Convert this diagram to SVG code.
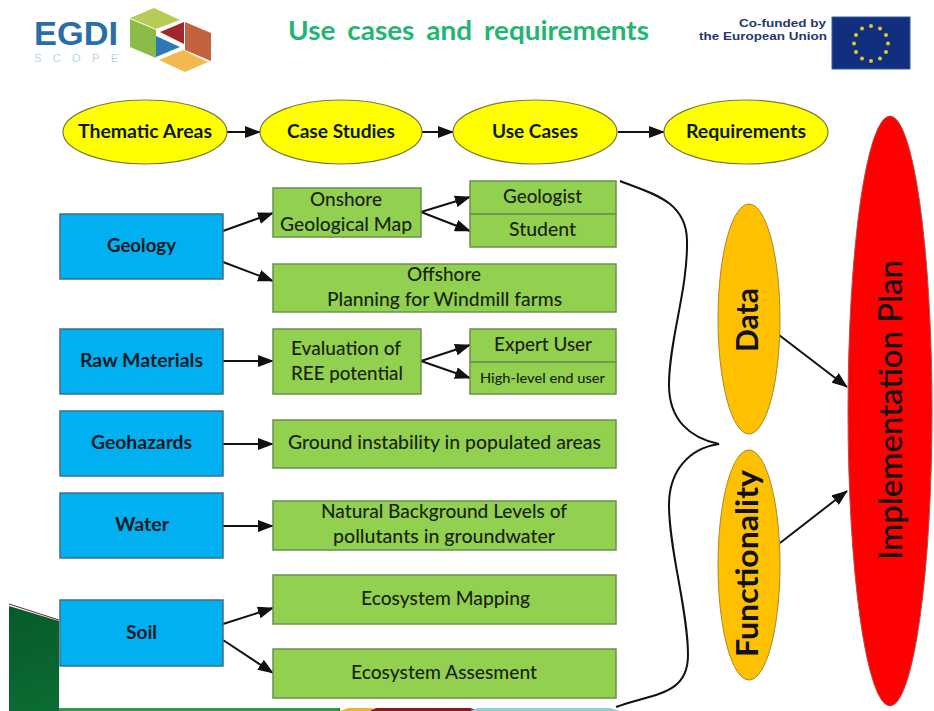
<svg xmlns="http://www.w3.org/2000/svg" width="934" height="711" viewBox="0 0 934 711">
<style>
text{font-family:Lato,"Liberation Sans",sans-serif;fill:#1a2410;text-anchor:middle;font-size:19px;font-weight:500}
.b{font-weight:700;fill:#0b1a24}
.y{fill:#ffff00;stroke:#7a7a40;stroke-width:1.2}
.bl{fill:#00b0f0;stroke:#3f6f85;stroke-width:1.5}
.g{fill:#92d050;stroke:#6d8f50;stroke-width:1.5}
.o{fill:#ffc000;stroke:#a88a30;stroke-width:1}
.c{fill:none;stroke:#111;stroke-width:2;marker-end:url(#a)}
</style>
<defs>
<marker id="a" markerUnits="userSpaceOnUse" markerWidth="16" markerHeight="12" refX="15" refY="6" orient="auto"><path d="M0 0L16 6L0 12z" fill="#111"/></marker>
<linearGradient id="fg" x1="0" y1="0" x2="1" y2="1"><stop offset="0" stop-color="#075a2a"/><stop offset="1" stop-color="#0e7a3a"/></linearGradient>
</defs>
<rect width="934" height="711" fill="#fff"/>
<g id="decoration">
<path d="M9 606L59 621V708H340V711H9z" fill="url(#fg)"/>
<path d="M9 604L59 620" stroke="#6b1f1f" stroke-width="1" fill="none"/>
<rect x="59" y="708" width="280" height="3" fill="#2a9a48"/>
<path d="M340 711L348 708H372L378 711z" fill="#e8b830"/>
<path d="M370 711L376 708H470L480 711z" fill="#8b1a1f"/>
<path d="M470 711L478 708H610L620 711z" fill="#8fd0d8"/>
</g>
<g id="logo">
<text x="76" y="45" style="font-size:34px;font-weight:700;fill:#2a6ea8;font-family:'Liberation Sans',sans-serif" textLength="84" lengthAdjust="spacingAndGlyphs">EGDI</text>
<text x="76" y="62" style="font-size:11px;fill:#b5d6e6;font-family:'Liberation Sans',sans-serif" textLength="84">SCOPE</text>
<path d="M130 18L154 8L180 20L156 29z" fill="#b5cc55"/>
<path d="M130 19L156 30V58L130 47z" fill="#8cbc48"/>
<path d="M156 36L180 47L156 57z" fill="#2f78b8"/>
<path d="M160 32L184 22V44z" fill="#a3262c"/>
<path d="M185 22L211 33V61L185 50z" fill="#c4623e"/>
<path d="M159 60L183 50L208 62L185 72z" fill="#f4b84e"/>
</g>
<g id="title"><text x="468.500" y="40" style="font-size:27px;font-weight:700;fill:#22b573;word-spacing:5px" textLength="361" lengthAdjust="spacingAndGlyphs">Use cases and requirements</text></g>
<g id="eu">
<text x="782.500" y="27" style="font-size:11.500px;font-weight:700;fill:#24386e;font-family:'Liberation Sans',sans-serif" textLength="87" lengthAdjust="spacingAndGlyphs">Co-funded by</text>
<text x="763" y="40" style="font-size:11.500px;font-weight:700;fill:#24386e;font-family:'Liberation Sans',sans-serif" textLength="128" lengthAdjust="spacingAndGlyphs">the European Union</text>
<rect x="832" y="17" width="78" height="52" fill="#10307f" stroke="#3a5a9f"/>
<g fill="#e8c52a"><circle cx="871" cy="26" r="2"/><circle cx="880" cy="28.500" r="2"/><circle cx="886" cy="35" r="2"/><circle cx="888" cy="43.500" r="2"/><circle cx="886" cy="52" r="2"/><circle cx="880" cy="58.500" r="2"/><circle cx="871" cy="61" r="2"/><circle cx="862" cy="58.500" r="2"/><circle cx="856" cy="52" r="2"/><circle cx="854" cy="43.500" r="2"/><circle cx="856" cy="35" r="2"/><circle cx="862" cy="28.500" r="2"/></g>
</g>
<g id="connectors">
<path class="c" d="M227 132H260"/>
<path class="c" d="M422 132H453"/>
<path class="c" d="M618 132H664"/>
<path class="c" d="M223 231L273 213"/>
<path class="c" d="M223 262L273 281"/>
<path class="c" d="M421 212L470 197"/>
<path class="c" d="M421 212L470 231"/>
<path class="c" d="M223 361H273"/>
<path class="c" d="M421 361L470 345"/>
<path class="c" d="M421 361L470 378"/>
<path class="c" d="M223 444H273"/>
<path class="c" d="M223 526H273"/>
<path class="c" d="M223 624L273 608"/>
<path class="c" d="M223 640L273 673"/>
<path class="c" d="M779 335L847 387"/>
<path class="c" d="M780 543L847 491"/>
<path id="brace" d="M620 181C650 193 686 200 687 240C688 290 669 340 669 385C669 420 690 438 719 444C690 448 669 470 669 505C669 550 688 610 688 655C688 695 655 693 616 707" fill="none" stroke="#111" stroke-width="2"/>
</g>
<g id="thematic-areas"><ellipse class="y" cx="145" cy="132" rx="82" ry="32"/><text class="b" x="145" y="138" textLength="134" lengthAdjust="spacingAndGlyphs">Thematic Areas</text></g>
<g id="case-studies"><ellipse class="y" cx="341" cy="132" rx="81" ry="32"/><text class="b" x="341" y="138" textLength="108" lengthAdjust="spacingAndGlyphs">Case Studies</text></g>
<g id="use-cases"><ellipse class="y" cx="535" cy="132" rx="82" ry="32"/><text class="b" x="535" y="138" textLength="86" lengthAdjust="spacingAndGlyphs">Use Cases</text></g>
<g id="requirements"><ellipse class="y" cx="746" cy="132" rx="82" ry="32"/><text class="b" x="746" y="138" textLength="120" lengthAdjust="spacingAndGlyphs">Requirements</text></g>
<g id="geology"><rect class="bl" x="60" y="214" width="163" height="65"/><text class="b" x="141.500" y="252" textLength="69" lengthAdjust="spacingAndGlyphs">Geology</text></g>
<g id="raw-materials"><rect class="bl" x="60" y="329" width="163" height="65"/><text class="b" x="141.500" y="367" textLength="123" lengthAdjust="spacingAndGlyphs">Raw Materials</text></g>
<g id="geohazards"><rect class="bl" x="60" y="411" width="163" height="65"/><text class="b" x="141.500" y="449" textLength="101" lengthAdjust="spacingAndGlyphs">Geohazards</text></g>
<g id="water"><rect class="bl" x="60" y="493" width="163" height="65"/><text class="b" x="142" y="531" textLength="54" lengthAdjust="spacingAndGlyphs">Water</text></g>
<g id="soil"><rect class="bl" x="60" y="600" width="163" height="66"/><text class="b" x="141.500" y="639" textLength="31" lengthAdjust="spacingAndGlyphs">Soil</text></g>
<g id="onshore"><rect class="g" x="273" y="188" width="148" height="49"/><text x="346" y="206" textLength="72" lengthAdjust="spacingAndGlyphs">Onshore</text><text x="346" y="231" textLength="132" lengthAdjust="spacingAndGlyphs">Geological Map</text></g>
<g id="geologist"><rect class="g" x="470" y="181" width="146" height="33"/><text x="542.500" y="203" textLength="79" lengthAdjust="spacingAndGlyphs">Geologist</text></g>
<g id="student"><rect class="g" x="470" y="214" width="146" height="33"/><text x="542.500" y="236" textLength="67" lengthAdjust="spacingAndGlyphs">Student</text></g>
<g id="offshore"><rect class="g" x="273" y="264" width="343" height="48"/><text x="444" y="281" textLength="74" lengthAdjust="spacingAndGlyphs">Offshore</text><text x="444.500" y="306" textLength="235" lengthAdjust="spacingAndGlyphs">Planning for Windmill farms</text></g>
<g id="evaluation"><rect class="g" x="273" y="329" width="148" height="65"/><text x="346" y="355" textLength="110" lengthAdjust="spacingAndGlyphs">Evaluation of</text><text x="347" y="380" textLength="112" lengthAdjust="spacingAndGlyphs">REE potential</text></g>
<g id="expert-user"><rect class="g" x="470" y="329" width="146" height="33"/><text x="543" y="351" textLength="98" lengthAdjust="spacingAndGlyphs">Expert User</text></g>
<g id="high-level"><rect class="g" x="470" y="362" width="146" height="32"/><text x="542.500" y="383" style="font-size:13.500px" textLength="125" lengthAdjust="spacingAndGlyphs">High-level end user</text></g>
<g id="ground"><rect class="g" x="273" y="420" width="343" height="48"/><text x="444.500" y="449" textLength="313" lengthAdjust="spacingAndGlyphs">Ground instability in populated areas</text></g>
<g id="natural"><rect class="g" x="273" y="501" width="343" height="49"/><text x="444" y="518" textLength="246" lengthAdjust="spacingAndGlyphs">Natural Background Levels of</text><text x="444" y="543" textLength="222" lengthAdjust="spacingAndGlyphs">pollutants in groundwater</text></g>
<g id="mapping"><rect class="g" x="273" y="575" width="343" height="49"/><text x="445.500" y="605" textLength="169" lengthAdjust="spacingAndGlyphs">Ecosystem Mapping</text></g>
<g id="assesment"><rect class="g" x="273" y="649" width="343" height="49"/><text x="444" y="679" textLength="186" lengthAdjust="spacingAndGlyphs">Ecosystem Assesment</text></g>
<g id="data"><ellipse class="o" cx="749" cy="319" rx="31" ry="115"/><text transform="translate(758 320) rotate(-90)" style="font-size:30px;font-weight:700;fill:#111" textLength="64" lengthAdjust="spacingAndGlyphs">Data</text></g>
<g id="functionality"><ellipse class="o" cx="749" cy="565" rx="31" ry="115"/><text transform="translate(758 563.500) rotate(-90)" style="font-size:30px;font-weight:700;fill:#111" textLength="187" lengthAdjust="spacingAndGlyphs">Functionality</text></g>
<g id="implementation-plan"><ellipse cx="890" cy="411" rx="42" ry="295" fill="#ff0000" stroke="#b05050"/><text transform="translate(902 410) rotate(-90)" style="font-size:32px;fill:#111" textLength="300" lengthAdjust="spacingAndGlyphs">Implementation Plan</text></g>
</svg>
